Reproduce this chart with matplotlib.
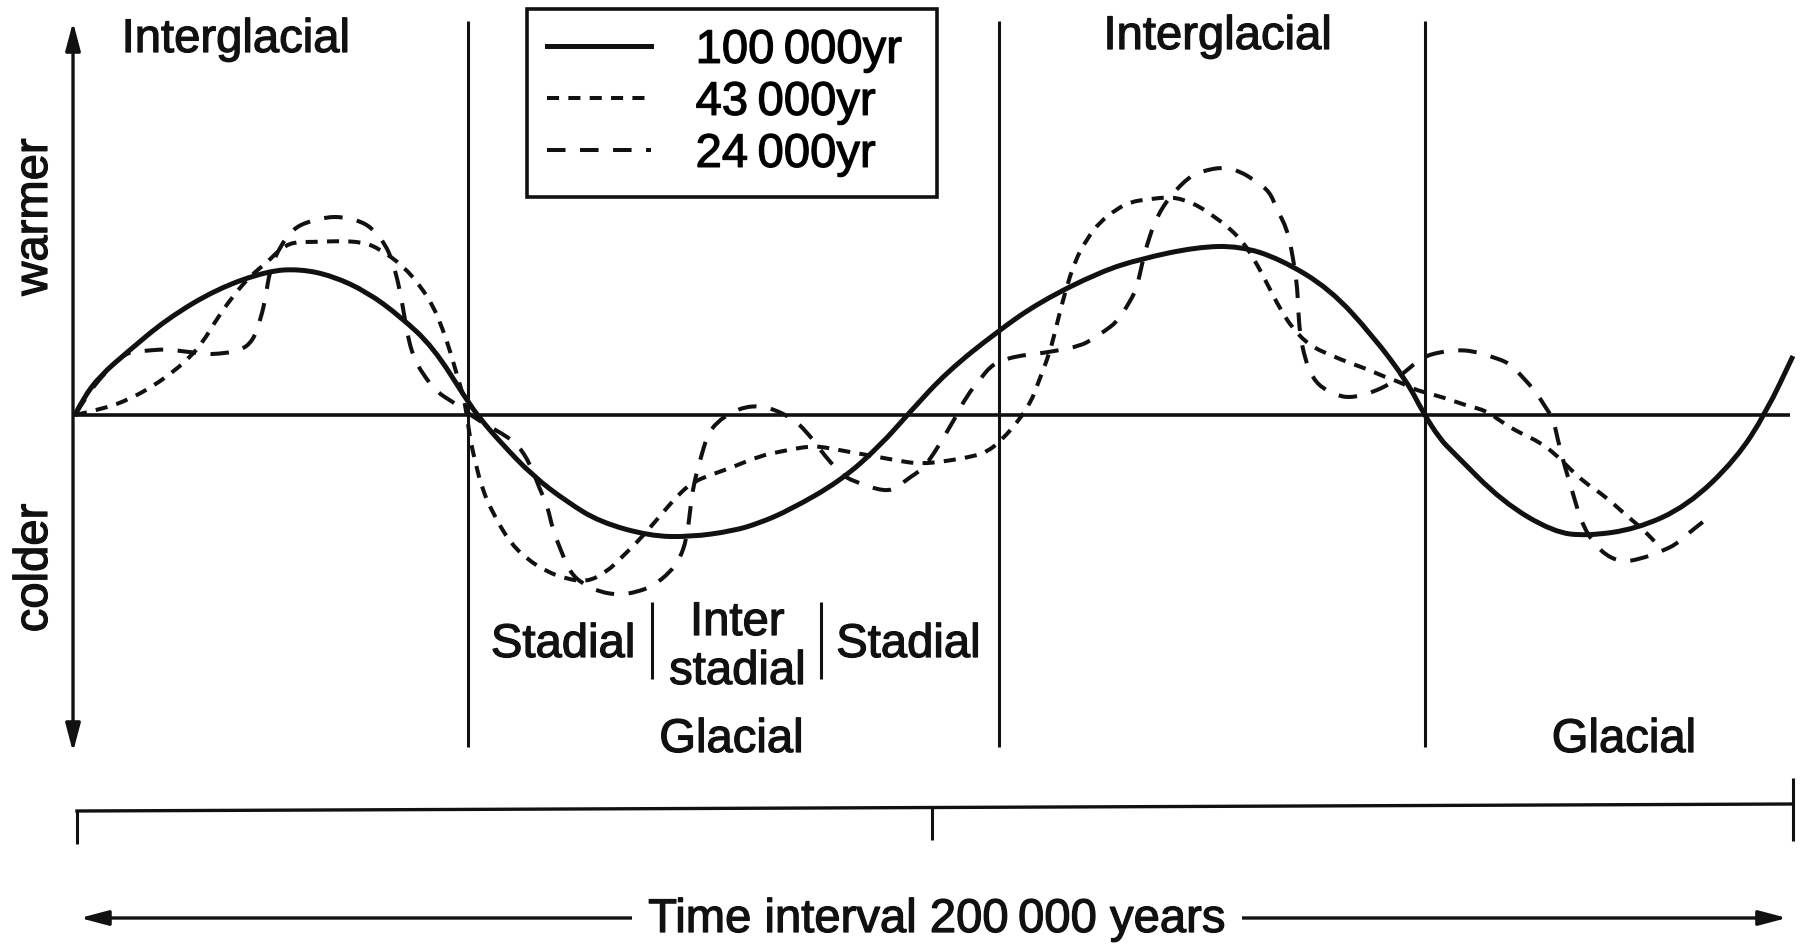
import matplotlib.pyplot as plt
import matplotlib.patheffects as pe
from matplotlib.patches import ArrowStyle, PathPatch
from matplotlib.path import Path
from matplotlib.lines import Line2D

plt.rcParams['font.family'] = ['Liberation Sans', 'DejaVu Sans']

# time in thousands of years, temperature as a relative index (0 = long-term mean)
t_100k = [0.0, 0.9, 2.9, 6.1, 10.7, 16.5, 22.4, 26.2, 30.0, 34.0, 37.8, 41.7, 45.6, 47.1,
          49.5, 53.3, 57.3, 61.1, 66.9, 71.6, 76.6, 79.7, 83.2, 89.1, 93.7, 97.2, 101.5,
          107.3, 112.3, 119.3, 124.0, 130.6, 135.6, 140.3, 146.1, 151.1, 155.1, 156.9,
          158.9, 160.4, 166.2, 172.1, 176.0, 181.8, 187.7, 193.4, 196.9, 200.0]
temp_100k = [0.0, 0.16, 0.39, 0.63, 0.96, 1.26, 1.44, 1.46, 1.39, 1.23, 0.99, 0.68, 0.15, -0.03,
             -0.27, -0.61, -0.87, -1.07, -1.21, -1.22, -1.16, -1.08, -0.95, -0.66, -0.31, 0.03,
             0.43, 0.83, 1.13, 1.43, 1.56, 1.68, 1.69, 1.56, 1.26, 0.79, 0.33, 0.03, -0.24,
             -0.37, -0.87, -1.17, -1.21, -1.14, -0.91, -0.44, 0.03, 0.59]

t_43k = [0.0, 3.3, 6.4, 9.1, 11.4, 13.4, 14.9, 16.5, 18.4, 20.4, 22.4, 23.9, 25.4, 27.7, 30.5,
         33.5, 35.5, 38.2, 40.2, 41.7, 42.8, 43.7, 44.5, 45.2, 45.6, 46.0, 46.6, 47.4, 48.7,
         50.6, 52.6, 55.0, 57.3, 59.6, 61.9, 63.8, 65.8, 68.1, 70.1, 71.9, 74.3, 76.6, 79.7,
         82.4, 85.6, 87.1, 90.2, 92.9, 96.0, 98.4, 101.5, 104.2, 106.2, 108.0, 109.7, 111.2,
         112.3, 113.5, 114.4, 115.2, 116.4, 117.8, 119.3, 121.3, 122.8, 125.1, 127.5, 129.2,
         131.0, 132.5, 134.1, 135.9, 137.4, 138.8, 140.3, 141.8, 143.8, 146.4, 148.4, 150.4,
         152.5, 154.2, 155.8, 157.4, 159.5, 161.8, 164.4, 165.9, 168.2, 170.5, 172.3, 173.7,
         175.8, 178.1, 180.4, 182.5, 184.5]
temp_43k = [0.00, 0.06, 0.16, 0.29, 0.43, 0.58, 0.73, 0.96, 1.19, 1.39, 1.53, 1.66, 1.73, 1.73,
            1.74, 1.73, 1.66, 1.49, 1.29, 1.09, 0.86, 0.63, 0.39, 0.19, 0.01, -0.24, -0.47,
            -0.74, -0.99, -1.27, -1.44, -1.57, -1.64, -1.67, -1.57, -1.41, -1.24, -1.01, -0.81,
            -0.67, -0.59, -0.52, -0.41, -0.36, -0.31, -0.32, -0.37, -0.41, -0.46, -0.49, -0.46,
            -0.42, -0.37, -0.24, -0.07, 0.11, 0.36, 0.63, 0.94, 1.21, 1.54, 1.76, 1.93, 2.06,
            2.13, 2.16, 2.18, 2.15, 2.08, 1.99, 1.89, 1.74, 1.54, 1.31, 1.06, 0.86, 0.69, 0.59,
            0.52, 0.46, 0.38, 0.33, 0.26, 0.22, 0.17, 0.10, 0.04, -0.06, -0.18, -0.27, -0.39,
            -0.51, -0.68, -0.81, -0.99, -1.14, -1.32]

t_24k = [0.0, 1.7, 4.1, 6.1, 7.9, 10.7, 12.2, 15.4, 16.5, 19.2, 20.7, 21.5, 22.1, 22.7, 23.9,
         25.4, 27.0, 29.3, 31.2, 33.2, 34.7, 36.1, 37.0, 37.8, 38.3, 38.8, 39.5, 40.5, 42.1,
         44.0, 45.6, 47.1, 49.8, 51.5, 53.0, 54.1, 55.0, 55.6, 56.5, 57.6, 59.1, 61.1, 63.4,
         65.4, 67.3, 69.3, 70.4, 71.2, 71.6, 71.9, 72.8, 73.6, 74.7, 76.6, 78.0, 79.7, 81.3,
         83.6, 85.2, 86.7, 87.9, 89.6, 91.0, 93.1, 95.2, 96.9, 98.7, 100.1, 101.0, 102.4,
         103.8, 105.4, 106.5, 107.7, 109.7, 111.8, 114.1, 117.0, 118.5, 119.7, 121.3, 122.5,
         123.6, 124.2, 125.1, 126.0, 127.5, 129.8, 131.3, 133.6, 135.6, 137.6, 139.1, 139.9,
         141.1, 141.6, 142.0, 142.3, 142.4, 142.6, 143.2, 144.0, 145.3, 147.3, 149.2, 151.1,
         153.1, 154.8, 156.9, 158.9, 160.9, 162.7, 164.7, 167.0, 168.4, 170.0, 171.1, 172.1,
         172.6, 173.2, 173.7, 174.3, 174.9, 175.6, 176.7, 178.3, 180.2, 182.2, 184.5, 186.5,
         188.0, 189.5]
temp_24k = [0.00, 0.24, 0.48, 0.63, 0.64, 0.66, 0.64, 0.61, 0.61, 0.64, 0.74, 0.93, 1.13, 1.46,
            1.69, 1.86, 1.93, 1.98, 1.98, 1.94, 1.86, 1.71, 1.53, 1.26, 1.01, 0.76, 0.56, 0.41,
            0.23, 0.13, 0.03, -0.06, -0.19, -0.29, -0.49, -0.74, -0.91, -1.14, -1.34, -1.57,
            -1.69, -1.77, -1.80, -1.77, -1.71, -1.57, -1.44, -1.24, -0.97, -0.74, -0.44, -0.21,
            -0.07, 0.03, 0.08, 0.09, 0.06, -0.04, -0.17, -0.34, -0.47, -0.62, -0.67, -0.74,
            -0.76, -0.64, -0.54, -0.37, -0.24, -0.04, 0.19, 0.36, 0.48, 0.54, 0.59, 0.61, 0.64,
            0.69, 0.76, 0.83, 0.93, 1.09, 1.26, 1.51, 1.79, 1.99, 2.19, 2.39, 2.44, 2.48, 2.44,
            2.33, 2.23, 2.06, 1.86, 1.66, 1.46, 1.26, 1.06, 0.81, 0.56, 0.38, 0.26, 0.18, 0.18,
            0.23, 0.31, 0.43, 0.58, 0.63, 0.65, 0.64, 0.59, 0.52, 0.39, 0.24, 0.09, -0.04,
            -0.24, -0.44, -0.59, -0.76, -0.94, -1.11, -1.27, -1.41, -1.47, -1.44, -1.37, -1.29,
            -1.17, -1.07]

# interglacial / glacial boundaries (kyr) and the stadial sub-divisions
stage_bounds = [45.8, 107.6, 157.2]
stadial_bounds = [67.2, 86.9]
series_labels = ['100\u2009000yr', '43\u2009000yr', '24\u2009000yr']

ink = '#111111'
fs = 34
heavy = [pe.withStroke(linewidth=0.9, foreground=ink)]


def smooth_path(x, y):
    # quadratic bezier through the midpoints, so the curve reads as hand drawn
    verts = [(x[0], y[0])]
    codes = [Path.MOVETO]
    for i in range(1, len(x) - 1):
        verts += [(x[i], y[i]), ((x[i] + x[i + 1]) / 2, (y[i] + y[i + 1]) / 2)]
        codes += [Path.CURVE3, Path.CURVE3]
    verts.append((x[-1], y[-1]))
    codes.append(Path.LINETO)
    return Path(verts, codes)


def label(x, y, s, **kw):
    kw.setdefault('ha', 'center')
    kw.setdefault('va', 'baseline')
    return ax.text(x, y, s, fontsize=fs, color=ink, path_effects=heavy, **kw)


fig = plt.figure(figsize=(18.02, 9.45), dpi=100)
ax = fig.add_axes([0, 0, 1, 1])
ax.set_xlim(-8.73, 201.05)
ax.set_ylim(-5.29, 4.16)
ax.axis('off')

styles = [dict(lw=3.6, linestyle='-'),
          dict(lw=2.9, linestyle=(0, (3.0, 2.3))),
          dict(lw=2.9, linestyle=(0, (4.6, 3.6)))]
curves = [(t_100k, temp_100k), (t_43k, temp_43k), (t_24k, temp_24k)]
handles = []
for (t, temp), st in zip(curves, styles):
    ax.add_patch(PathPatch(smooth_path(t, temp), fill=False, edgecolor=ink,
                           capstyle='butt', **st))
    handles.append(Line2D([], [], color=ink, **st))

# baseline and stage dividers
ax.hlines(0, -0.23, 199.65, color=ink, lw=2.6)
ax.vlines(stage_bounds, -3.32, 3.94, color=ink, lw=2.2)
ax.vlines(stadial_bounds, -2.64, -1.87, color=ink, lw=2.2)

head = ArrowStyle('<|-|>', head_length=1.7, head_width=0.45)
ax.annotate('', xy=(-0.23, 3.93), xytext=(-0.23, -3.37),
            arrowprops=dict(arrowstyle=head, color=ink, lw=2.4, shrinkA=0, shrinkB=0))
label(-4.66, 1.98, 'warmer', rotation=90, va='center')
label(-4.66, -1.53, 'colder', rotation=90, va='center')

# stage names
label(18.7, 3.63, 'Interglacial')
label(133.0, 3.66, 'Interglacial')
label(56.8, -2.42, 'Stadial')
label(77.1, -2.20, 'Inter')
label(77.1, -2.69, 'stadial')
label(97.0, -2.42, 'Stadial')
label(76.4, -3.37, 'Glacial')
label(180.3, -3.37, 'Glacial')

# time scale bar with half-way tick
ax.plot([0.23, 200.0], [-3.96, -3.89], color=ink, lw=2.4)
ax.vlines(0.23, -4.29, -3.96, color=ink, lw=2.2)
ax.vlines(99.8, -4.25, -3.93, color=ink, lw=2.2)
ax.vlines(200.0, -4.26, -3.63, color=ink, lw=2.2)

ax.annotate('', xy=(0.58, -5.03), xytext=(199.3, -5.03),
            arrowprops=dict(arrowstyle=head, color=ink, lw=2.4, shrinkA=0, shrinkB=0))
label(100.35, -5.17, 'Time interval 200\u2009000 years',
      bbox=dict(facecolor='white', edgecolor='none', pad=12))

leg = ax.legend(handles, series_labels, loc='upper left', mode='expand',
                bbox_to_anchor=(527 / 1802, (945 - 195) / 945, 410 / 1802, 185 / 945),
                bbox_transform=fig.transFigure,
                fontsize=fs, frameon=True, fancybox=False, edgecolor=ink, framealpha=1,
                borderaxespad=0, borderpad=0.42, labelspacing=0.17, handlelength=2.2,
                handletextpad=0.95)
leg.get_frame().set_linewidth(2.6)
for txt in leg.get_texts():
    txt.set_path_effects(heavy)

fig.savefig('out.png', dpi=100)
